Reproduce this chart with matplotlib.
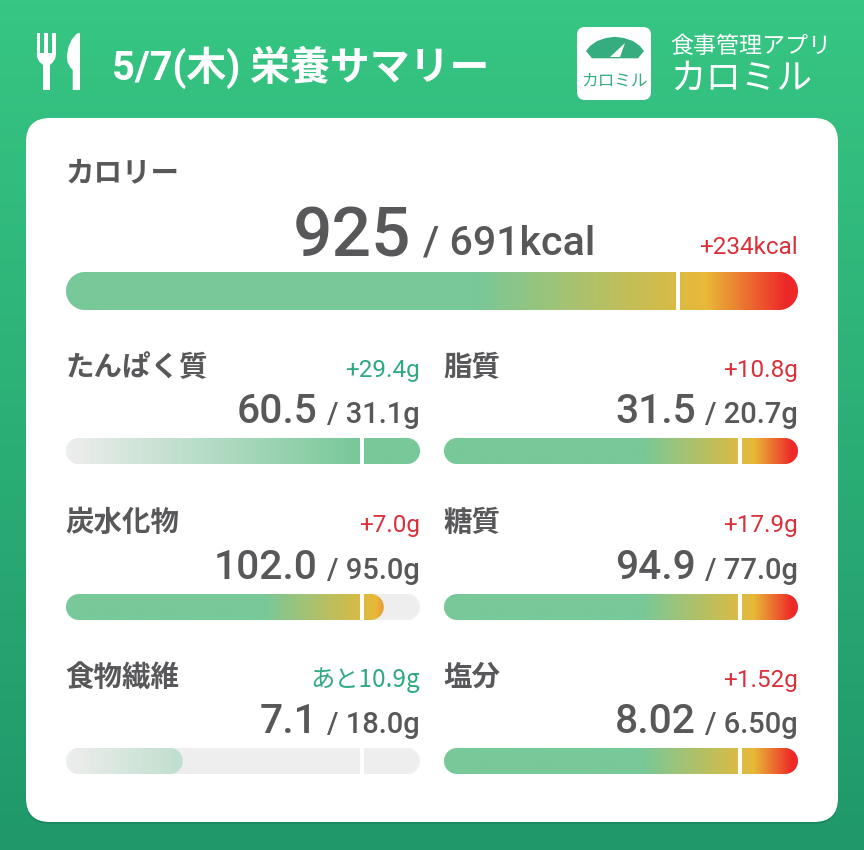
import numpy as np
import matplotlib
matplotlib.use('Agg')
import matplotlib.pyplot as plt
from matplotlib.patches import FancyBboxPatch, Polygon, Rectangle

JP = ['Noto Sans CJK JP', 'DejaVu Sans']
NUM = ['Roboto', 'Noto Sans CJK JP']

title = '5/7(木) 栄養サマリー'
app_sub = '食事管理アプリ'
app_name = 'カロミル'

names = ['カロリー', 'たんぱく質', '脂質', '炭水化物', '糖質', '食物繊維', '塩分']
values = ['925', '60.5', '31.5', '102.0', '94.9', '7.1', '8.02']
targets = ['691', '31.1', '20.7', '95.0', '77.0', '18.0', '6.50']
units = ['kcal', 'g', 'g', 'g', 'g', 'g', 'g']
diffs = ['+234kcal', '+29.4g', '+10.8g', '+7.0g', '+17.9g', 'あと10.9g', '+1.52g']
# good=green text and the gray-to-green fill
good = [False, True, False, False, False, True, False]

GREEN = (0x78 / 255, 0xC8 / 255, 0x99 / 255)
YELLOW = (0xE8 / 255, 0xB9 / 255, 0x38 / 255)
RED = (0xEE / 255, 0x28 / 255, 0x28 / 255)
GRAY = (0xEE / 255, 0xEE / 255, 0xEE / 255)
TEXT = '#58585a'
LOGO = '#36ad7e'
TARGET_POS = 0.836  # where 100% sits on a bar
ROW_BASE = [423, 579, 733]

fig = plt.figure(figsize=(8.64, 8.5), dpi=100)
ax = fig.add_axes([0, 0, 1, 1])
ax.axis('off')
ax.set_xlim(0, 864)
ax.set_ylim(850, 0)
ax.set_autoscale_on(False)

# background
t = np.linspace(0, 1, 256)[:, None, None]
top = np.array([0x37, 0xC6, 0x83]) / 255
bottom = np.array([0x20, 0x98, 0x6A]) / 255
ax.imshow(top + (bottom - top) * t, extent=(0, 864, 850, 0), aspect='auto', zorder=0)

# card
ax.add_patch(FancyBboxPatch((26, 121), 812, 703, boxstyle='round,pad=0,rounding_size=24',
                            fc='#12664a', ec='none', alpha=0.35, zorder=1))
ax.add_patch(FancyBboxPatch((26, 118), 812, 704, boxstyle='round,pad=0,rounding_size=24',
                            fc='white', ec='none', zorder=2))


def stadium(x0, y0, w, h, **kw):
    r = h / 2
    a = np.linspace(-np.pi / 2, np.pi / 2, 40)
    right = np.column_stack([x0 + w - r + r * np.cos(a), y0 + r + r * np.sin(a)])
    left = np.column_stack([x0 + r - r * np.cos(a), y0 + r - r * np.sin(a)])
    return Polygon(np.vstack([right, left]), closed=True, ec='none', **kw)


def bar_colors(is_good):
    x = np.linspace(0, 1, 600)
    if is_good:
        xp, cs = [0, 0.83, 1], [GRAY, GREEN, GREEN]
    else:
        xp, cs = [0, 0.56, 0.875, 0.985], [GREEN, GREEN, YELLOW, RED]
    rgb = [np.interp(x, xp, [c[i] for c in cs]) for i in range(3)]
    return np.dstack(rgb).reshape(1, 600, 3)


def draw_bar(x0, x1, y0, y1, ratio, is_good):
    w, h = x1 - x0, y1 - y0
    ax.add_patch(stadium(x0, y0, w, h, fc='#eeeeee', zorder=3))
    fw = min(ratio * TARGET_POS, 1) * w
    im = ax.imshow(bar_colors(is_good), extent=(x0, x1, y1, y0), aspect='auto', zorder=4)
    clip = stadium(x0, y0, fw, h, fc='none')
    ax.add_patch(clip)
    im.set_clip_path(clip)
    mx = x0 + TARGET_POS * w
    ax.add_patch(Rectangle((mx - 2, y0 - 1), 4, h + 2, fc='white', ec='none', zorder=5))


def value_text(xr, y, value, target, unit, big, small, gap, tail_y=None):
    # right aligned, "value / target" in two sizes
    tail = ax.text(xr, y if tail_y is None else tail_y, f'/ {target}{unit}', family=NUM,
                   fontsize=small, fontweight='medium', color=TEXT, ha='right', va='baseline', zorder=6)
    fig.canvas.draw()
    bb = tail.get_window_extent().transformed(ax.transData.inverted())
    ax.text(bb.x0 - gap, y, value, family=NUM, fontsize=big, fontweight='medium',
            color=TEXT, ha='right', va='baseline', zorder=6)


# calories
ax.text(66, 181, names[0], family=JP, fontsize=20.5, fontweight='bold', color=TEXT, zorder=6)
value_text(595, 256, values[0], targets[0], units[0], 50, 29.6, 11, tail_y=254)
ax.text(798, 254, diffs[0], family=NUM, fontsize=17.5, color='#d9303a', ha='right', zorder=6)
draw_bar(66, 798, 272, 310, float(values[0]) / float(targets[0]), good[0])

# nutrient grid
for i in range(1, 7):
    col = (i - 1) % 2
    row = (i - 1) // 2
    x0 = 66 if col == 0 else 444
    x1 = 420 if col == 0 else 798
    base = ROW_BASE[row]
    ax.text(x0 - 0.5, 376 + row * 155, names[i], family=JP, fontsize=20.5, fontweight='bold',
            color=TEXT, zorder=6)
    ax.text(x1, 377 + row * 155, diffs[i], family=JP if 'あと' in diffs[i] else NUM, fontsize=17.5,
            color='#2fa981' if good[i] else '#d9303a', ha='right', zorder=6)
    value_text(x1, base, values[i], targets[i], units[i], 29.3, 21, 9.5)
    draw_bar(x0, x1, base + 15, base + 41, float(values[i]) / float(targets[i]), good[i])

# header
ax.text(111.5, 80, title, family=NUM, fontsize=28.7, fontweight='bold', color='white', zorder=6)

# fork
for fx, fw in ((36.7, 3.4), (44.3, 3.4), (52.4, 3.6)):
    ax.add_patch(Rectangle((fx, 33), fw, 22, fc='white', ec='none', zorder=6))
ax.add_patch(Polygon([(36.7, 53), (56, 53), (55.4, 58), (53, 62), (50, 65), (50, 90), (43, 90), (43, 65),
                      (39.6, 62), (37.3, 58)], fc='white', ec='none', zorder=6))
# knife
ax.add_patch(Polygon([(80, 33), (77, 33.5), (72, 39), (68.5, 47), (66.8, 56), (67.5, 62), (70, 67), (72.7, 70),
                      (72.7, 90), (80, 90)], fc='white', ec='none', zorder=6))

# logo
ax.add_patch(FancyBboxPatch((577, 27), 74, 73, boxstyle='round,pad=0,rounding_size=8',
                            fc='white', ec='none', zorder=6))
ax.add_patch(Polygon([(586, 51), (590, 46), (597, 41), (606, 38), (615, 36.8), (624, 38), (633, 41), (640, 46),
                      (644, 51), (638, 58.3), (592, 58.3)], fc=LOGO, ec='none', zorder=7))
ax.add_patch(Polygon([(625, 43), (620, 57), (610, 57)], fc='white', ec='none', zorder=8))
ax.text(614.5, 81, app_name, family=JP, fontsize=12, color=LOGO, ha='center', va='center', zorder=8)
ax.text(670, 52.5, app_sub, family=JP, fontsize=16.6, color='white', zorder=6)
ax.text(670, 89, app_name, family=JP, fontsize=25.6, color='white', zorder=6)

fig.savefig('out.png', dpi=100)
